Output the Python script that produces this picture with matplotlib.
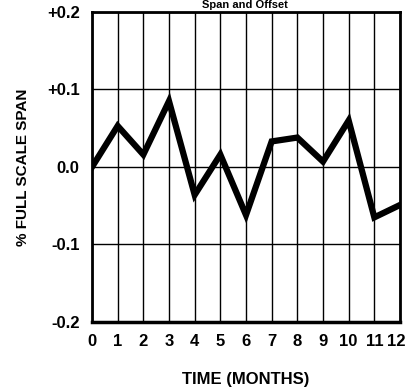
import matplotlib.pyplot as plt
import matplotlib.transforms as mtransforms
from matplotlib.ticker import FixedLocator

months = list(range(13))
span = [0.0, 0.053, 0.016, 0.085, -0.036, 0.016, -0.062, 0.033, 0.038, 0.007, 0.060, -0.065, -0.049]
yticks = [-0.2, -0.1, 0.0, 0.1, 0.2]
ylabels = ["-0.2", "-0.1", "0.0", "+0.1", "+0.2"]

plt.rcParams["font.family"] = ["Liberation Sans", "DejaVu Sans"]
plt.rcParams["font.weight"] = "bold"

fig = plt.figure(figsize=(4.05, 3.92), dpi=100)
ax = fig.add_axes([92 / 405, 1 - 322 / 392, 308 / 405, 310 / 392])

ax.plot(months, span, color="black", lw=4.5, solid_joinstyle="miter", zorder=3)
ax.set_xlim(0, 12)
ax.set_ylim(-0.2, 0.2)
ax.xaxis.set_major_locator(FixedLocator(months))
ax.set_xticklabels([str(m) for m in months], fontsize=12, fontweight="bold")
ax.set_yticks(yticks)
ax.set_yticklabels(ylabels, fontsize=12, fontweight="bold")
ax.tick_params(length=0, pad=9)
last = ax.get_xticklabels()[-1]
last.set_transform(last.get_transform() +
                   mtransforms.ScaledTranslation(-4 / 100, 0, fig.dpi_scale_trans))
ax.grid(True, color="black", lw=1.0)
for s in ax.spines.values():
    s.set_linewidth(2)
ax.spines["bottom"].set_linewidth(2.5)

ax.set_xlabel("TIME (MONTHS)", fontsize=12, fontweight="bold", labelpad=16)
ax.set_ylabel("% FULL SCALE SPAN", fontsize=11, fontweight="bold", labelpad=12)
fig.text(245 / 405, 1 - 5 / 392, "Span and Offset", ha="center", va="center",
         fontsize=8, fontweight="bold")

fig.savefig("out.png", dpi=100)
